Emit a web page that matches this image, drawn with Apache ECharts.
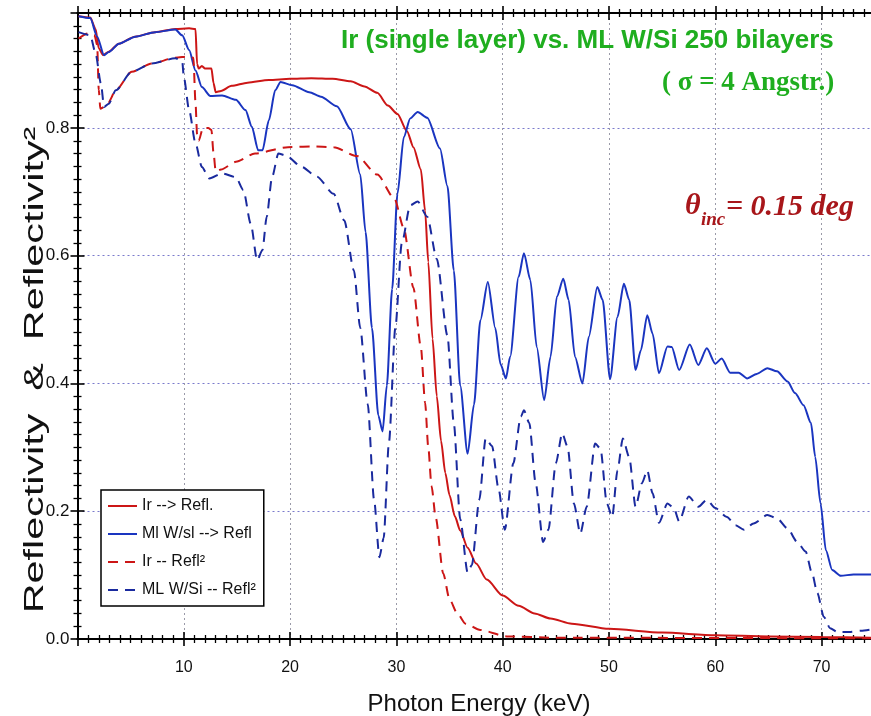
<!DOCTYPE html>
<html><head><meta charset="utf-8">
<script src="https://cdn.jsdelivr.net/npm/echarts@6/dist/echarts.min.js"></script>
<style>html,body{margin:0;padding:0;background:#fff}#c{width:871px;height:716px}</style>
</head><body><div id="c"></div>
<script>
// ---- data ----
const seriesNames = ['Ir --> Refl.', 'Ml W/sl --> Refl', 'Ir -- Refl²', 'ML W/Si -- Refl²'];
const xTickValues = [10, 20, 30, 40, 50, 60, 70];
const yTickValues = [0.0, 0.2, 0.4, 0.6, 0.8];

const irRefl = [[0.1,0.975],[1.2,0.973],[1.7,0.955],[2.0,0.925],[2.4,0.914],[2.9,0.919],[3.9,0.932],[5.4,0.943],[7.3,0.950],[9.2,0.955],[10.5,0.956],[11.1,0.955],[11.25,0.90],[11.4,0.893],[11.7,0.897],[12.0,0.893],[12.6,0.893],[12.8,0.87],[13.0,0.856],[13.5,0.858],[14.5,0.866],[16,0.871],[18,0.875],[20,0.877],[22,0.878],[24,0.877],[25.7,0.873],[27,0.865],[28.2,0.855],[29.2,0.835],[30.1,0.822],[31.0,0.795],[31.6,0.77],[32.3,0.735],[32.7,0.67],[33.0,0.59],[33.4,0.47],[33.8,0.38],[34.2,0.31],[34.6,0.26],[35.0,0.225],[35.5,0.192],[36.0,0.17],[36.7,0.143],[37.5,0.118],[38.5,0.093],[40.0,0.068],[41.5,0.052],[43,0.04],[44.5,0.032],[46.5,0.024],[50,0.016],[55,0.01],[60,0.006],[65,0.004],[70,0.003],[75,0.002]];

const mlRefl = [[0.1,0.975],[1.2,0.972],[1.85,0.943],[2.5,0.914],[2.95,0.919],[3.9,0.932],[5.45,0.943],[7.3,0.950],[9.2,0.954],[9.85,0.945],[10.5,0.922],[11.1,0.89],[11.7,0.864],[12.5,0.850],[13.6,0.851],[14.9,0.844],[15.8,0.828],[16.4,0.802],[17.0,0.765],[17.4,0.765],[18.0,0.812],[18.6,0.859],[19.1,0.872],[20.2,0.867],[21.8,0.856],[22.9,0.849],[24.4,0.834],[25.7,0.798],[26.6,0.727],[27.1,0.637],[27.7,0.487],[28.3,0.350],[28.7,0.325],[29.1,0.397],[29.6,0.548],[30.1,0.697],[30.7,0.786],[31.3,0.815],[32.0,0.825],[32.9,0.816],[34.1,0.768],[34.8,0.709],[35.4,0.577],[36.0,0.397],[36.7,0.29],[37.3,0.367],[37.9,0.499],[38.6,0.559],[39.3,0.487],[39.8,0.43],[40.3,0.408],[40.7,0.442],[41.5,0.567],[42.0,0.604],[42.6,0.562],[43.2,0.457],[43.9,0.374],[44.5,0.442],[45.1,0.536],[45.7,0.564],[46.2,0.531],[46.8,0.442],[47.5,0.400],[48.1,0.473],[48.9,0.551],[49.4,0.531],[50.1,0.407],[50.8,0.504],[51.4,0.556],[51.9,0.531],[52.5,0.421],[53.0,0.452],[53.6,0.507],[54.1,0.478],[54.7,0.416],[55.5,0.458],[55.9,0.457],[56.6,0.421],[57.6,0.461],[58.4,0.429],[59.2,0.455],[60.0,0.431],[60.6,0.439],[61.4,0.417],[62.2,0.417],[63.0,0.408],[63.9,0.415],[64.9,0.424],[65.8,0.419],[66.8,0.403],[67.5,0.385],[68.3,0.366],[69.0,0.338],[69.4,0.285],[69.9,0.212],[70.4,0.139],[71.0,0.108],[71.8,0.099],[73.0,0.101],[75,0.101]];

const irRefl2 = [[0.1,0.94],[1.0,0.948],[1.6,0.945],[1.85,0.93],[2.0,0.86],[2.15,0.83],[2.5,0.833],[2.9,0.84],[3.6,0.859],[5.1,0.888],[7.0,0.901],[9.2,0.91],[10.5,0.912],[10.9,0.91],[11.1,0.84],[11.25,0.79],[11.4,0.78],[11.8,0.80],[12.3,0.80],[12.6,0.797],[12.8,0.76],[13.0,0.732],[13.5,0.735],[14.9,0.747],[16.7,0.760],[19.8,0.770],[22,0.771],[24.1,0.770],[26.3,0.756],[28.2,0.727],[29.8,0.69],[30.7,0.643],[31.6,0.55],[32.3,0.457],[32.7,0.37],[33.0,0.30],[33.3,0.24],[33.7,0.19],[34.4,0.103],[35.0,0.062],[35.7,0.041],[36.5,0.024],[37.9,0.014],[40.4,0.004],[45,0.002],[75,0.001]];

const mlRefl2 = [[0.1,0.95],[1.2,0.945],[1.7,0.917],[2.2,0.87],[2.5,0.833],[2.95,0.838],[3.6,0.859],[5.1,0.888],[7.0,0.901],[9.2,0.909],[9.85,0.905],[10.0,0.88],[10.5,0.828],[11.1,0.776],[11.7,0.739],[12.4,0.721],[13.6,0.729],[14.9,0.723],[15.6,0.703],[16.3,0.65],[16.9,0.593],[17.4,0.609],[17.8,0.661],[18.3,0.723],[18.9,0.760],[19.6,0.757],[21.1,0.739],[22.5,0.724],[24.1,0.697],[25.1,0.655],[26.0,0.577],[26.6,0.487],[27.3,0.368],[27.9,0.218],[28.4,0.128],[28.8,0.158],[29.3,0.308],[29.9,0.487],[30.5,0.619],[31.3,0.679],[32.0,0.685],[32.9,0.661],[33.8,0.595],[34.8,0.475],[35.4,0.338],[36.0,0.188],[36.7,0.104],[37.1,0.116],[37.8,0.218],[38.4,0.314],[39.0,0.302],[39.6,0.236],[40.2,0.171],[41.0,0.275],[41.7,0.348],[42.0,0.358],[42.5,0.338],[43.1,0.244],[43.8,0.152],[44.3,0.171],[45.0,0.275],[45.6,0.322],[46.1,0.301],[46.7,0.212],[47.3,0.165],[47.9,0.207],[48.7,0.306],[49.2,0.298],[49.8,0.212],[50.3,0.191],[50.8,0.264],[51.3,0.314],[51.9,0.285],[52.5,0.207],[53.1,0.244],[53.6,0.264],[54.1,0.228],[54.7,0.182],[55.5,0.212],[56.1,0.205],[56.6,0.184],[57.5,0.223],[58.4,0.207],[59.2,0.218],[60.0,0.205],[61.1,0.191],[61.9,0.178],[62.7,0.171],[63.6,0.181],[64.9,0.194],[65.8,0.189],[66.8,0.173],[67.7,0.152],[68.5,0.137],[69.1,0.103],[69.6,0.072],[70.2,0.035],[70.8,0.017],[71.5,0.011],[72.7,0.011],[73.7,0.013],[75,0.016]];

// ---- chart ----
const X_MIN = 0, X_MAX = 80, Y_MIN = 0, Y_MAX = 0.98;
const RED = '#cc1616', BLUE = '#1a35c0', NAVY = '#1a2a9e';
const FONT = '"Liberation Sans", Arial, sans-serif';
const SERIF = '"Liberation Serif", "Times New Roman", serif';

function xAx(pos, inside, main) {
  return {
    type: 'value', position: pos, min: X_MIN, max: X_MAX, interval: 10,
    axisLine: { show: true, onZero: false, lineStyle: { color: '#000', width: 2 } },
    axisTick: { show: true, inside: inside, length: 7, lineStyle: { color: '#000', width: 1.6 } },
    minorTick: { show: true, splitNumber: 10, length: 4, lineStyle: { color: '#000', width: 1.3 } },
    axisLabel: { show: main, margin: 21, fontSize: 16, color: '#111', fontFamily: FONT,
      showMinLabel: false, showMaxLabel: false,
      formatter: v => (xTickValues.indexOf(v) >= 0 ? String(v) : '') },
    splitLine: { show: main, lineStyle: { type: [2, 3], color: '#9a9aa8', width: 1 } },
    minorSplitLine: { show: false }
  };
}
function yAx(inside, main) {
  return {
    type: 'value', position: 'left', min: Y_MIN, max: Y_MAX, interval: 0.2,
    axisLine: { show: true, onZero: false, lineStyle: { color: '#000', width: 2 } },
    axisTick: { show: true, inside: inside, length: 7, lineStyle: { color: '#000', width: 1.6 } },
    minorTick: { show: true, splitNumber: 10, length: 4, lineStyle: { color: '#000', width: 1.3 } },
    axisLabel: { show: main, margin: 8, fontSize: 17, color: '#111', fontFamily: FONT,
      showMaxLabel: false,
      formatter: v => { const t = yTickValues.find(k => Math.abs(k - v) < 1e-6); return t === undefined ? '' : t.toFixed(1); } },
    splitLine: { show: main, lineStyle: { type: [2, 3], color: '#7a7acc', width: 1 } }
  };
}

function mkLine(name, data, color, dashed) {
  return {
    name: name, type: 'line', data: data, xAxisIndex: 0, yAxisIndex: 0,
    symbol: 'none', smooth: 0.25, smoothMonotone: 'x',
    lineStyle: { color: color, width: 2, type: dashed ? [10, 7] : 'solid' },
    itemStyle: { color: color }
  };
}

const chart = echarts.init(document.getElementById('c'), null, { renderer: 'canvas' });
chart.setOption({
  backgroundColor: '#fff',
  animation: false,
  grid: { left: 77.5, top: 13, width: 80 * 10.63, height: 626, containLabel: false, outerBoundsMode: 'none' },
  xAxis: [xAx('bottom', false, true), xAx('bottom', true, false), xAx('top', false, false), xAx('top', true, false)],
  yAxis: [yAx(false, true), yAx(true, false)],
  legend: {
    orient: 'vertical', left: 101, top: 490,
    data: seriesNames,
    backgroundColor: '#fff', borderColor: '#000', borderWidth: 1.5, borderRadius: 0,
    padding: [8, 8, 8, 6], itemWidth: 29, itemHeight: 14, itemGap: 12,
    itemStyle: { opacity: 0 },
    textStyle: { fontSize: 16, color: '#111', fontFamily: FONT }
  },
  series: [
    mkLine(seriesNames[0], irRefl, RED, false),
    mkLine(seriesNames[1], mlRefl, BLUE, false),
    mkLine(seriesNames[2], irRefl2, RED, true),
    mkLine(seriesNames[3], mlRefl2, NAVY, true)
  ],
  graphic: [
    { type: 'text', x: 341, y: 41, z: 100,
      style: { text: 'Ir (single layer) vs. ML W/Si 250 bilayers', font: 'bold 26px ' + FONT, fill: '#1fae1f',
        textAlign: 'left', textVerticalAlign: 'middle', align: 'left', verticalAlign: 'middle' } },
    { type: 'text', x: 662, y: 83, z: 100,
      style: { text: '( σ = 4 Angstr.)', font: 'bold 27px ' + SERIF, fill: '#1fae1f',
        textAlign: 'left', textVerticalAlign: 'middle', align: 'left', verticalAlign: 'middle' } },
    { type: 'text', x: 685, y: 206, z: 100,
      style: { text: 'θ', font: 'italic bold 30px ' + SERIF, fill: '#a8161a',
        textAlign: 'left', textVerticalAlign: 'middle', align: 'left', verticalAlign: 'middle' } },
    { type: 'text', x: 701, y: 220, z: 100,
      style: { text: 'inc', font: 'italic bold 19px ' + SERIF, fill: '#a8161a',
        textAlign: 'left', textVerticalAlign: 'middle', align: 'left', verticalAlign: 'middle' } },
    { type: 'text', x: 726, y: 207, z: 100,
      style: { text: '= 0.15 deg', font: 'italic bold 30px ' + SERIF, fill: '#a8161a',
        textAlign: 'left', textVerticalAlign: 'middle', align: 'left', verticalAlign: 'middle' } },
    { type: 'text', x: 36, y: 370, rotation: Math.PI / 2, scaleX: 1.53, z: 100,
      style: { text: 'Reflectivity  &  Reflectivity²', font: 'normal 27px ' + FONT, fill: '#111',
        textAlign: 'center', textVerticalAlign: 'middle', align: 'center', verticalAlign: 'middle' } },
    { type: 'text', x: 479, y: 704, z: 100,
      style: { text: 'Photon Energy (keV)', font: 'normal 24px ' + FONT, fill: '#111',
        textAlign: 'center', textVerticalAlign: 'middle', align: 'center', verticalAlign: 'middle' } }
  ]
});
</script></body></html>
